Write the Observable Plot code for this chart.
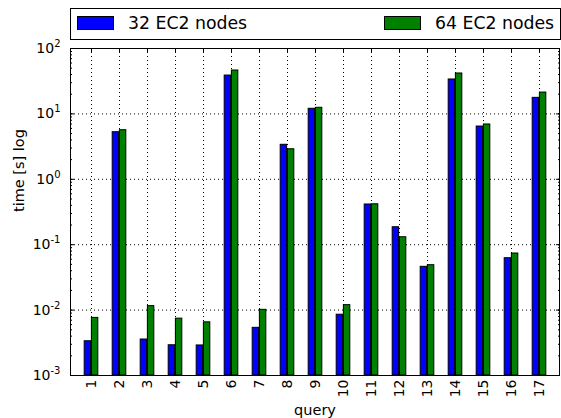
<!DOCTYPE html>
<html>
<head>
<meta charset="utf-8">
<script src="https://cdn.jsdelivr.net/npm/d3@7"></script>
<script src="https://cdn.jsdelivr.net/npm/@observablehq/plot@0.6"></script>
<style>
  html, body { margin: 0; padding: 0; background: white; }
  #legend { position: relative; z-index: 1; width: 561px; height: 28px; font-family: "DejaVu Sans", sans-serif; font-size: 17.3px; color: black; }
  #legend .box { position: absolute; left: 70px; top: 8px; width: 491px; height: 32px; border: 1px solid black; box-sizing: border-box; background: white; }
  #legend .sw { position: absolute; top: 16px; width: 37px; height: 14px; border: 1px solid black; box-sizing: border-box; }
  #legend .lab { position: absolute; top: 13px; line-height: 20px; white-space: nowrap; }
  #chart svg { display: block; }
</style>
</head>
<body>
<div id="legend"></div>
<div id="chart"></div>
<script>
const queries = ["1","2","3","4","5","6","7","8","9","10","11","12","13","14","15","16","17"];
const seriesNames = ["32 EC2 nodes", "64 EC2 nodes"];
const seriesColors = ["#0000ff", "#008000"];
const ec2_32 = [0.00334, 5.25, 0.00355, 0.0029, 0.00288, 38.6, 0.00536, 3.37, 11.97, 0.0085, 0.412, 0.185, 0.0459, 33.6, 6.41, 0.0622, 17.6];
const ec2_64 = [0.0076, 5.63, 0.0115, 0.0074, 0.0065, 46.1, 0.0101, 2.88, 12.4, 0.0119, 0.415, 0.130, 0.0486, 41.5, 6.89, 0.0733, 21.2];
const yTicks = [1e-3, 1e-2, 1e-1, 1, 10, 100];
const yTickLabels = ["10^-3", "10^-2", "10^-1", "10^0", "10^1", "10^2"];
const yDomain = [1e-3, 1e2];
const xLabel = "query";
const yLabel = "time [s] log";

// legend
const legend = document.getElementById("legend");
legend.innerHTML = `<div class="box"></div>
  <div class="sw" style="left:77px;background:${seriesColors[0]}"></div>
  <div class="lab" style="left:128px">${seriesNames[0]}</div>
  <div class="sw" style="left:384px;background:${seriesColors[1]}"></div>
  <div class="lab" style="left:435px">${seriesNames[1]}</div>`;

const data32 = queries.map((q, i) => ({query: q, value: ec2_32[i]}));
const data64 = queries.map((q, i) => ({query: q, value: ec2_64[i]}));

const width = 561, height = 390;
const marginLeft = 70, marginRight = 2, marginTop = 20, marginBottom = 43;
const bw = (width - marginLeft - marginRight) / queries.length;
const minorTicks = d3.scaleLog().domain(yDomain).ticks();

const dotted = {stroke: "black", strokeOpacity: 1, strokeWidth: 1, strokeDasharray: "1,3"};
const blank = () => "";

const plot = Plot.plot({
  width, height, marginLeft, marginRight, marginTop, marginBottom,
  style: {fontFamily: "DejaVu Sans, sans-serif", fontSize: "14px", color: "black", background: "transparent"},
  x: {type: "band", domain: queries, padding: 0, label: null},
  y: {type: "log", domain: yDomain, label: null},
  marks: [
    Plot.gridY(yTicks, dotted),
    Plot.gridX(queries, dotted),
    Plot.barY(data32, {x: "query", y1: yDomain[0], y2: "value", fill: seriesColors[0], stroke: "black", strokeWidth: 1, insetLeft: bw / 4, insetRight: bw / 2}),
    Plot.barY(data64, {x: "query", y1: yDomain[0], y2: "value", fill: seriesColors[1], stroke: "black", strokeWidth: 1, insetLeft: bw / 2, insetRight: bw / 4}),
    Plot.frame({stroke: "black", strokeWidth: 1}),
    // y ticks (inward) left and right
    Plot.axisY(yTicks, {anchor: "left", tickSize: 4, dx: 4, tickFormat: blank, label: null}),
    Plot.axisY(yTicks, {anchor: "right", tickSize: 4, dx: -4, tickFormat: blank, label: null}),
    Plot.axisY(minorTicks, {anchor: "left", tickSize: 2, dx: 2, tickFormat: blank, label: null}),
    Plot.axisY(minorTicks, {anchor: "right", tickSize: 2, dx: -2, tickFormat: blank, label: null}),
    // y labels
    Plot.axisY(yTicks, {anchor: "left", tickSize: 0, tickPadding: 10, tickFormat: (d) => yTickLabels[yTicks.indexOf(d)], label: null, fontSize: 14}),
    // x ticks inward bottom/top
    Plot.axisX(queries, {anchor: "bottom", tickSize: 4, dy: -4, tickFormat: blank, label: null}),
    Plot.axisX(queries, {anchor: "top", tickSize: 4, dy: 4, tickFormat: blank, label: null}),
    Plot.axisX(queries, {anchor: "bottom", tickSize: 0, tickPadding: 4, tickRotate: -90, label: null, fontSize: 14}),
    // axis labels
    Plot.text([yLabel], {frameAnchor: "left", dx: -47, rotate: -90, lineAnchor: "bottom", text: d => d, fontSize: 14.5}),
    Plot.text([xLabel], {frameAnchor: "bottom", dy: 39, lineAnchor: "bottom", text: d => d, fontSize: 14.5})
  ]
});
document.getElementById("chart").appendChild(plot);

// render superscripts on y tick labels
d3.select(plot).selectAll("text").each(function() {
  const t = this.textContent;
  const m = /^10\^(-?\d+)$/.exec(t);
  if (!m) return;
  const sel = d3.select(this);
  sel.text(null);
  sel.append("tspan").text("10");
  sel.append("tspan").attr("dy", "-6").attr("font-size", "10px").text(m[1]);
});
</script>
</body>
</html>
